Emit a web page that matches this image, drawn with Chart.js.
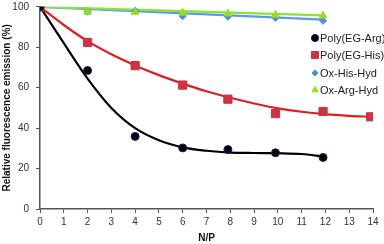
<!DOCTYPE html>
<html><head><meta charset="utf-8">
<script src="https://cdn.jsdelivr.net/npm/chart.js@4/dist/chart.umd.min.js"></script>
<style>html,body{margin:0;padding:0;background:#fff}#wrap{width:384px;height:244px}</style>
</head><body><div id="wrap"><canvas id="c" width="384" height="244"></canvas></div>
<script>
// ---- data ----
const xTicks = [0,1,2,3,4,5,6,7,8,9,10,11,12,13,14];
const yTicks = [0,20,40,60,80,100];
const seriesNames = ['Poly(EG-Arg)','Poly(EG-His)','Ox-His-Hyd','Ox-Arg-Hyd'];

const argX = [0,2,4,6,7.9,9.9,11.9];
const argY = [100,68.5,35.9,30.2,29.4,27.8,25.5];
const hisX = [0,2,4,6,7.9,9.9,11.9,13.9];
const hisY = [100,82.4,70.9,61.3,54.3,47.2,48.2,45.6];
const oxHisX = [0,2,4,6,7.9,9.9,11.9];
const oxHisY = [100,97.6,98,95.4,95.1,94.6,93.1];
const oxArgX = [0,2,4,6,7.9,9.9,11.9];
const oxArgY = [100,97.4,97.4,97,96.6,96,95.6];

// trend curves
const argFitX = [0,1,2,3,4,5,6,7,8,9,10,11,11.9];
const argFitY = [100,82,64.5,50,40,34,30.5,28.8,27.9,27.7,27.6,27.2,25.9];
const hisFitX = [0,1,2,3,4,5,6,7,8,9,10,11,12,13,13.9];
const hisFitY = [100,91,83,76.5,71,66.2,62,58.2,55,52.2,49.8,48.1,46.9,46.1,45.6];
const oxHisFitX = [0,11.9];
const oxHisFitY = [100,93.7];
const oxArgFitX = [0,11.9];
const oxArgFitY = [100,95.8];

const colors = {
  arg:'#000000', argBorder:'#2b1a66',
  his:'#cc3344', hisLine:'#dd1f1f',
  oxHis:'#4a90e6', oxHisLine:'#5a9ae8',
  oxArg:'#99dd22', oxArgLine:'#8ee03a'
};

const pts = (xs, ys) => xs.map((x,i)=>({x:x, y:ys[i]}));

const fitDs = (xs, ys, col, w) => ({
  data: pts(xs, ys), showLine:true, borderColor:col, borderWidth:w,
  pointRadius:0, pointHoverRadius:0, tension:0.4, cubicInterpolationMode:'monotone',
  fill:false
});
const markDs = (label, xs, ys, style, r, fill, border) => ({
  label: label, data: pts(xs, ys), showLine:false, pointStyle:style,
  pointRadius:r, pointBackgroundColor:fill, pointBorderColor:border, pointBorderWidth:1
});

const datasets = [
  markDs(seriesNames[0], argX, argY, 'circle', 4, colors.arg, colors.argBorder),
  markDs(seriesNames[1], hisX, hisY, 'rect', 5.8, colors.his, colors.his),
  markDs(seriesNames[3], oxArgX, oxArgY, 'triangle', 4.5, colors.oxArg, colors.oxArg),
  markDs(seriesNames[2], oxHisX, oxHisY, 'rectRot', 3.6, colors.oxHis, colors.oxHis),
  fitDs(argFitX, argFitY, '#000000', 2.2),
  fitDs(hisFitX, hisFitY, colors.hisLine, 2.2),
  fitDs(oxArgFitX, oxArgFitY, colors.oxArgLine, 2.2),
  fitDs(oxHisFitX, oxHisFitY, colors.oxHisLine, 2.2)
];

const legendItems = [
  {name:seriesNames[0], style:'circle', r:3.6, fill:colors.arg, border:colors.argBorder},
  {name:seriesNames[1], style:'rect', r:5, fill:colors.his, border:colors.his},
  {name:seriesNames[2], style:'rectRot', r:3, fill:colors.oxHis, border:colors.oxHis},
  {name:seriesNames[3], style:'triangle', r:3.6, fill:colors.oxArg, border:colors.oxArg}
];

const legendPlugin = {
  id:'customLegend',
  afterDraw(chart){
    const ctx = chart.ctx;
    const ys = [38,55,73,90];
    ctx.save();
    legendItems.forEach((it,i)=>{
      ctx.fillStyle = it.fill; ctx.strokeStyle = it.border; ctx.lineWidth = 1;
      Chart.helpers.drawPoint(ctx, {pointStyle:it.style, radius:it.r, borderWidth:1}, 315, ys[i]);
      ctx.fillStyle = '#222';
      ctx.font = '11px "Liberation Sans", Arial, sans-serif';
      ctx.textBaseline = 'middle'; ctx.textAlign = 'left';
      ctx.fillText(it.name, 320, ys[i]+0.5);
    });
    ctx.restore();
  }
};

const tickFont = {family:'"Liberation Sans", Arial, sans-serif', size:10};
const titleFont = {family:'"Liberation Sans", Arial, sans-serif', size:10, weight:'bold'};

new Chart(document.getElementById('c'), {
  type:'scatter',
  data:{datasets:datasets},
  plugins:[legendPlugin],
  options:{
    responsive:false, animation:false, devicePixelRatio:1,
    layout:{padding:{top:4, right:11, left:1, bottom:0}},
    plugins:{legend:{display:false}, tooltip:{enabled:false}},
    scales:{
      x:{
        type:'linear', min:0, max:14,
        afterBuildTicks(s){ s.ticks = xTicks.map(v=>({value:v})); },
        afterFit(s){ s.height = 35; s.paddingLeft = 0; s.paddingRight = 0; },
        grid:{display:true, drawOnChartArea:false, drawTicks:true, tickLength:4, color:'#555', lineWidth:1},
        border:{display:true, color:'#555', width:1.5},
        ticks:{font:tickFont, color:'#333', padding:3, maxRotation:0, autoSkip:false},
        title:{display:true, text:'N/P', font:titleFont, color:'#111', padding:{top:2,bottom:0}}
      },
      y:{
        type:'linear', min:0, max:100,
        afterBuildTicks(s){ s.ticks = yTicks.map(v=>({value:v})); },
        afterFit(s){ s.width = 39; s.paddingTop = 0; s.paddingBottom = 0; },
        grid:{display:true, drawOnChartArea:false, drawTicks:true, tickLength:4, color:'#555', lineWidth:1},
        border:{display:true, color:'#555', width:1.5},
        ticks:{font:tickFont, color:'#333', padding:7},
        title:{display:true, text:'Relative fluorescence emission (%)', font:titleFont, color:'#111', padding:{top:0,bottom:2}}
      }
    }
  }
});
</script></body></html>
